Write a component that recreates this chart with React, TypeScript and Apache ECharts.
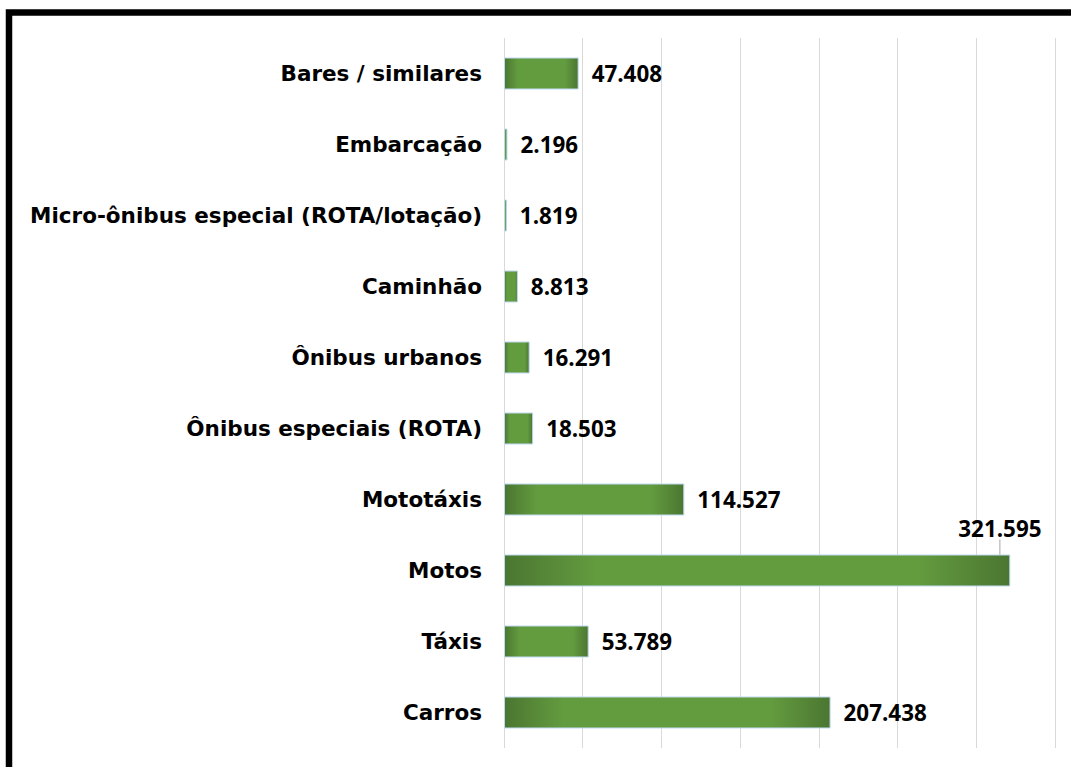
import React, { useEffect, useRef } from "react";
import * as echarts from "echarts";

const categories = [
  "Carros",
  "Táxis",
  "Motos",
  "Mototáxis",
  "Ônibus especiais (ROTA)",
  "Ônibus urbanos",
  "Caminhão",
  "Micro-ônibus especial (ROTA/lotação)",
  "Embarcação",
  "Bares / similares",
];
const values = [207.438, 53.789, 321.595, 114.527, 18.503, 16.291, 8.813, 1.819, 2.196, 47.408];
const axisMax = 350;
const axisInterval = 50;
const movedLabelIndex = 2;

const CAT_FONT = "'DejaVu Sans', sans-serif";
const VAL_FONT = "'Open Sans', 'DejaVu Sans', sans-serif";

export default function App() {
  const ref = useRef<HTMLDivElement>(null);
  useEffect(() => {
    if (!ref.current) return;
    const chart = echarts.init(ref.current, undefined, { renderer: "svg" });
    const grad = new echarts.graphic.LinearGradient(0, 0, 1, 0, [
      { offset: 0, color: "#4b7631" },
      { offset: 0.18, color: "#639b3f" },
      { offset: 0.82, color: "#639b3f" },
      { offset: 1, color: "#4b7631" },
    ]);
    chart.setOption({
      animation: false,
      backgroundColor: "#ffffff",
      grid: { left: 504, right: 16, top: 38, bottom: 19, containLabel: false },
      xAxis: {
        type: "value",
        min: 0,
        max: axisMax,
        interval: axisInterval,
        axisLabel: { show: false },
        axisLine: { show: false },
        axisTick: { show: false },
        splitLine: { show: true, lineStyle: { color: "#d9d9d9", width: 1 } },
      },
      yAxis: {
        type: "category",
        data: categories,
        axisLine: { show: false },
        axisTick: { show: false },
        axisLabel: {
          margin: 22,
          color: "#000000",
          fontWeight: "bold",
          fontSize: 21.5,
          fontFamily: CAT_FONT,
        },
      },
      series: [
        {
          type: "bar",
          data: values.map((v, i) =>
            i === movedLabelIndex
              ? { value: v, labelLine: { show: true, lineStyle: { color: "#a6a6a6", width: 1 } } }
              : { value: v }
          ),
          barWidth: "45%",
          itemStyle: {
            color: grad,
            borderColor: "#bdd7ee",
            borderWidth: 1,
          },
          label: {
            show: true,
            position: "right",
            distance: 13,
            color: "#000000",
            fontWeight: "bold",
            fontSize: 22.4,
            fontFamily: VAL_FONT,
            formatter: (p: any) => p.value.toFixed(3),
          },
          labelLayout: (p: any) => (p.dataIndex === movedLabelIndex ? { dx: -65, dy: -42 } : {}),
          labelLine: { show: false },
        },
      ],
      graphic: [
        {
          type: "rect",
          shape: { x: 9, y: 12.5, width: 1200, height: 1000 },
          style: { fill: "none", stroke: "#000000", lineWidth: 6.5 },
          silent: true,
          z: 100,
        },
      ],
    });
    return () => chart.dispose();
  }, []);
  return (
    <div
      ref={ref}
      style={{ position: "absolute", left: 0, top: 0, width: 1071, height: 767 }}
    />
  );
}
